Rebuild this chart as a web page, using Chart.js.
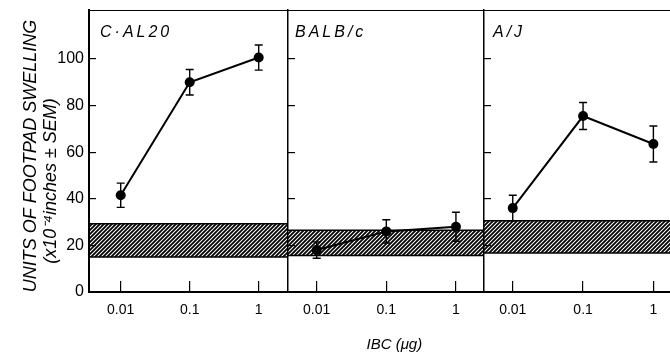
<!DOCTYPE html>
<html>
<head>
<meta charset="utf-8">
<script src="https://cdn.jsdelivr.net/npm/chart.js@4.4.1/dist/chart.umd.min.js"></script>
<style>
  html, body { margin: 0; padding: 0; background: #fff; }
  #figure { position: relative; width: 670px; height: 354px; overflow: hidden; background: #fff; }
  #figure canvas { position: absolute; top: -20px; }
</style>
</head>
<body>
<div id="figure">
  <canvas id="panelCAL20" width="298" height="374" style="left:0px"></canvas>
  <canvas id="panelBALBc" width="216" height="374" style="left:278px"></canvas>
  <canvas id="panelAJ" width="217" height="374" style="left:474px"></canvas>
</div>
<script>
const doses = [0.01, 0.1, 1];
const doseLabels = ['0.01', '0.1', '1'];
const swellingTicks = [0, 20, 40, 60, 80, 100];

const strains = ['C·AL20', 'BALB/c', 'A/J'];

const swellingCAL20 = [41.5, 90, 100.6];
const semCAL20 = [5.2, 5.5, 5.4];
const controlCAL20 = [15, 29.3];

const swellingBALBc = [18, 26, 28];
const semBALBc = [3.5, 5, 6.2];
const controlBALBc = [15.7, 26.5];

const swellingAJ = [36, 75.5, 63.5];
const semAJ = [5.5, 5.8, 7.7];
const controlAJ = [16.7, 30.6];

Chart.defaults.font.family = '"Liberation Sans", Arial, sans-serif';
Chart.defaults.color = '#000';

const makeHatch = (ctx) => {
    const tile = document.createElement('canvas');
    tile.width = 4;
    tile.height = 4;
    const c = tile.getContext('2d');
    c.strokeStyle = '#000';
    c.lineWidth = 1.8;
    c.beginPath();
    c.moveTo(0, 4); c.lineTo(4, 0);
    c.moveTo(-1, 1); c.lineTo(1, -1);
    c.moveTo(3, 5); c.lineTo(5, 3);
    c.stroke();
    return ctx.createPattern(tile, 'repeat');
};

// top edge of each panel + the strain name in the corner
const panelFrame = {
    id: 'panelFrame',
    afterDraw(chart, args, opts) {
        const { ctx, chartArea: { left, right, top } } = chart;
        ctx.save();
        ctx.strokeStyle = '#000';
        ctx.lineWidth = 1;
        ctx.beginPath();
        ctx.moveTo(left, top + 0.5);
        ctx.lineTo(right, top + 0.5);
        ctx.stroke();
        ctx.font = 'italic 16px "Liberation Sans", Arial, sans-serif';
        ctx.letterSpacing = '3px';
        ctx.fillStyle = '#000';
        ctx.textBaseline = 'alphabetic';
        ctx.fillText(opts.label, left + opts.labelOffset, top + 27);
        ctx.restore();
    },
};

// mean ± SEM whiskers for the first dataset
const errorBars = {
    id: 'errorBars',
    afterDatasetsDraw(chart, args, opts) {
        const { ctx } = chart;
        const yScale = chart.scales.y;
        const meta = chart.getDatasetMeta(0);
        const points = chart.data.datasets[0].data;
        ctx.save();
        ctx.strokeStyle = '#000';
        ctx.lineWidth = 1.4;
        meta.data.forEach((el, i) => {
            const hi = yScale.getPixelForValue(points[i].y + opts.sem[i]);
            const lo = yScale.getPixelForValue(points[i].y - opts.sem[i]);
            ctx.beginPath();
            ctx.moveTo(el.x, hi); ctx.lineTo(el.x, lo);
            ctx.moveTo(el.x - 4, hi); ctx.lineTo(el.x + 4, hi);
            ctx.moveTo(el.x - 4, lo); ctx.lineTo(el.x + 4, lo);
            ctx.stroke();
        });
        ctx.restore();
    },
};

const makePanel = (canvasId, label, labelOffset, values, sem, control, xRange, padLeft, showY, showXTitle) => {
    const canvas = document.getElementById(canvasId);
    const hatch = makeHatch(canvas.getContext('2d'));

    new Chart(canvas, {
        type: 'line',
        data: {
            datasets: [
                {
                    data: doses.map((d, i) => ({ x: d, y: values[i] })),
                    borderColor: '#000',
                    borderWidth: 2,
                    pointRadius: 5,
                    pointBackgroundColor: '#000',
                    pointBorderWidth: 0,
                    tension: 0,
                },
                {
                    data: [{ x: xRange[0], y: control[1] }, { x: xRange[1], y: control[1] }],
                    borderColor: '#000',
                    borderWidth: 1.5,
                    pointRadius: 0,
                    fill: '+1',
                    backgroundColor: hatch,
                },
                {
                    data: [{ x: xRange[0], y: control[0] }, { x: xRange[1], y: control[0] }],
                    borderColor: '#000',
                    borderWidth: 1.5,
                    pointRadius: 0,
                    fill: false,
                },
            ],
        },
        options: {
            responsive: false,
            animation: false,
            devicePixelRatio: 1,
            layout: { padding: { top: 30, left: padLeft, right: 10, bottom: 0 } },
            plugins: {
                legend: { display: false },
                tooltip: { enabled: false },
                panelFrame: { label, labelOffset },
                errorBars: { sem },
            },
            scales: {
                x: {
                    type: 'logarithmic',
                    min: xRange[0],
                    max: xRange[1],
                    bounds: 'data',
                    afterBuildTicks: (s) => { s.ticks = doses.map((v) => ({ value: v })); },
                    afterFit: (s) => { s.height = 62; },
                    ticks: {
                        padding: 21,
                        autoSkip: false,
                        maxRotation: 0,
                        font: { size: 14 },
                        callback: (v, i) => doseLabels[i],
                    },
                    grid: { drawOnChartArea: false, tickLength: -11, color: '#000', lineWidth: 1.2 },
                    border: { color: '#000', width: 2 },
                    title: {
                        display: showXTitle,
                        text: '    IBC (μg)',
                        font: { size: 15, style: 'italic' },
                        padding: { top: 0, bottom: 0 },
                    },
                },
                y: {
                    type: 'linear',
                    min: 0,
                    max: 121,
                    bounds: 'data',
                    afterBuildTicks: (s) => { s.ticks = swellingTicks.map((v) => ({ value: v })); },
                    afterFit: (s) => { s.width = showY ? 89 : 0; },
                    ticks: { display: showY, padding: 12, font: { size: 16 } },
                    grid: { drawOnChartArea: false, tickLength: -7, color: '#000', lineWidth: 1.2 },
                    border: { color: '#000', width: showY ? 2 : 1.5 },
                    title: {
                        display: showY,
                        text: ['UNITS OF FOOTPAD SWELLING  ', '(x10⁻⁴inches ± SEM)            '],
                        font: { size: 18, style: 'italic', lineHeight: 1.1 },
                        padding: { top: 21, bottom: 0 },
                    },
                },
            },
        },
        plugins: [panelFrame, errorBars],
    });
};

makePanel('panelCAL20', strains[0], 11, swellingCAL20, semCAL20, controlCAL20, [0.00347, 2.66], 0, true, false);
makePanel('panelBALBc', strains[1], 7, swellingBALBc, semBALBc, controlBALBc, [0.00387, 2.53], 10, false, true);
makePanel('panelAJ', strains[2], 9, swellingAJ, semAJ, controlAJ, [0.0039, 2.47], 10, false, false);
</script>
</body>
</html>
